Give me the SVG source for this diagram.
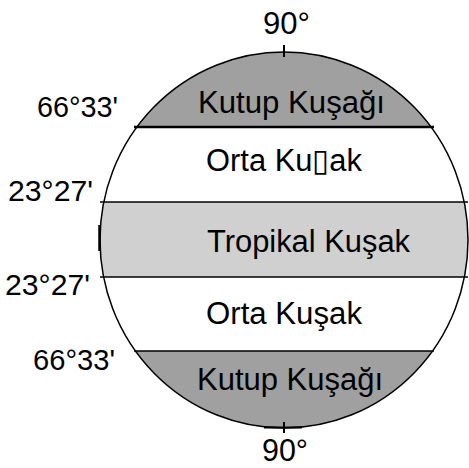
<svg xmlns="http://www.w3.org/2000/svg" width="469" height="468" viewBox="0 0 469 468">
<style>
text{font-family:"Liberation Sans",Arial,sans-serif;fill:#000;}
.zone{font-size:31px;text-anchor:start;}
.lat{font-size:29px;}
</style>
<defs>
<clipPath id="globe"><ellipse cx="284" cy="240" rx="184" ry="188"/></clipPath>
</defs>
<rect width="469" height="468" fill="#fff"/>
<g id="globe-body">
<g clip-path="url(#globe)">
<rect id="polar-n" x="90" y="40" width="390" height="87" fill="#a0a0a0"/>
<rect id="tropical" x="90" y="202" width="390" height="75" fill="#d0d0d0"/>
<rect id="polar-s" x="90" y="351" width="390" height="90" fill="#a0a0a0"/>
</g>
<ellipse cx="284" cy="240" rx="184" ry="188" fill="none" stroke="#000" stroke-width="1.5"/>
</g>
<g id="connectors" stroke="#000" fill="none">
<line x1="134" y1="127" x2="434" y2="127" stroke-width="2.5"/>
<line x1="100" y1="202" x2="468" y2="202" stroke-width="1.5"/>
<line x1="100" y1="277" x2="468" y2="277" stroke-width="1.5"/>
<line x1="134" y1="351" x2="434" y2="351" stroke-width="1.5"/>
<line x1="284" y1="45" x2="284" y2="57" stroke-width="2"/>
<line x1="284" y1="422" x2="284" y2="433" stroke-width="2"/>
<line x1="264" y1="427.5" x2="302" y2="427.5" stroke-width="2"/>
<line x1="99.5" y1="225" x2="99.5" y2="251" stroke-width="2.5"/>
</g>
<g id="label-90-top"><text class="zone" x="263" y="34" textLength="47" lengthAdjust="spacingAndGlyphs">90°</text></g>
<g id="label-90-bottom"><text class="zone" x="262" y="461" font-size="30" textLength="46" lengthAdjust="spacingAndGlyphs">90°</text></g>
<g id="kutup-n"><text class="zone" x="198" y="113" textLength="187" lengthAdjust="spacingAndGlyphs">Kutup Kuşağı</text></g>
<g id="orta-n"><text class="zone" x="206" y="170.5" textLength="156" lengthAdjust="spacingAndGlyphs">Orta Ku▯ak</text></g>
<g id="tropikal"><text class="zone" x="207" y="251.5" textLength="203" lengthAdjust="spacingAndGlyphs">Tropikal Kuşak</text></g>
<g id="orta-s"><text class="zone" x="206" y="324" textLength="156" lengthAdjust="spacingAndGlyphs">Orta Kuşak</text></g>
<g id="kutup-s"><text class="zone" x="197" y="390" textLength="186" lengthAdjust="spacingAndGlyphs">Kutup Kuşağı</text></g>
<g id="lat-66-n"><text class="lat" x="37" y="117" textLength="81" lengthAdjust="spacingAndGlyphs">66°33'</text></g>
<g id="lat-23-n"><text class="lat" x="8" y="200.5" textLength="85" lengthAdjust="spacingAndGlyphs">23°27'</text></g>
<g id="lat-23-s"><text class="lat" x="5" y="295" textLength="85" lengthAdjust="spacingAndGlyphs">23°27'</text></g>
<g id="lat-66-s"><text class="lat" x="33" y="370" textLength="82" lengthAdjust="spacingAndGlyphs">66°33'</text></g>
</svg>
